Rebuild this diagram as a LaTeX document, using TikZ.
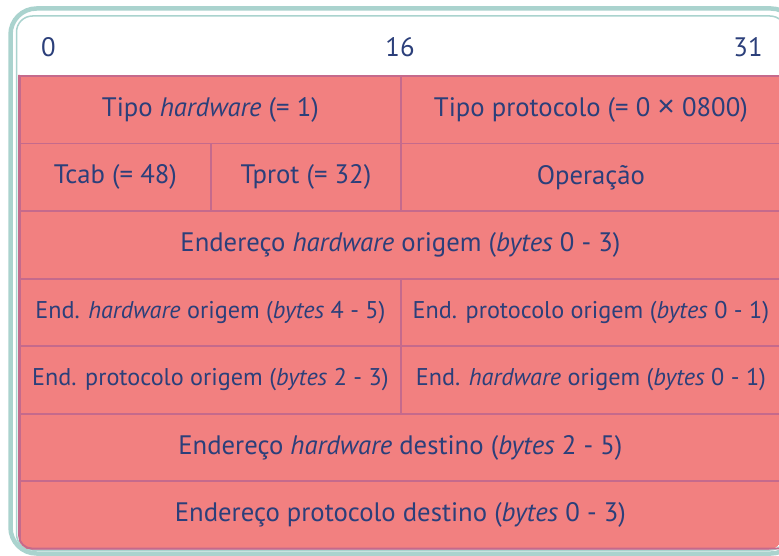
\documentclass[tikz,border=0pt]{standalone}
\usepackage{fontspec}
\setmainfont{PT Sans}
\newfontfamily\symfont{Liberation Sans}
\definecolor{cellfill}{HTML}{F28080}
\definecolor{cellline}{HTML}{C56A8C}
\definecolor{ink}{HTML}{2B3F7A}
\definecolor{frame}{HTML}{AAD3CE}
\tikzset{
  cell/.style={draw=cellline, fill=cellfill, line width=1.8pt, inner sep=0pt,
    anchor=north west, minimum height=67.57pt, text=ink, font=\bigtxt},
  small/.style={font=\smalltxt},
  bitnum/.style={text=ink, font=\bigtxt, inner sep=0pt}
}
\newcommand{\bigtxt}{\fontsize{26.7}{31}\selectfont}
\newcommand{\smalltxt}{\fontsize{24.2}{28}\selectfont}
\newcommand{\timessign}{{\symfont\fontsize{30}{30}\selectfont ×}}
\begin{document}
\begin{tikzpicture}[x=1pt, y=-1pt]
  \useasboundingbox (0,0) rectangle (779,556);
  \begin{scope}
    \clip (0,0) rectangle (779,556);
    % outer and inner frame
    \draw[frame, line width=4.5pt, rounded corners=26pt] (10.5,8.5) rectangle (797,553.5);
    \draw[frame, line width=1.5pt, fill=white, rounded corners=16pt] (16.5,16) rectangle (786,550);
    % bit positions
    \node[bitnum] (b0) at (48.5,47) {0};
    \node[bitnum] (b16) at (400,47) {16};
    \node[bitnum] (b31) at (748,47) {31};
    % header cells, clipped to the rounded lower-left corner
    \begin{scope}
      \clip[rounded corners=13pt] (18.5,60) -- (18.5,549.5) -- (782,549.5) -- (782,60) -- cycle;
      \node[cell, minimum width=381pt] (hw) at (19,75) {Tipo \emph{hardware} (= 1)};
      \node[cell, minimum width=380pt] (pt) at (400,75) {Tipo protocolo (= 0 \timessign\ 0800)};
      \node[cell, minimum width=191pt] (tcab) at (19,142.57) {Tcab (= 48)};
      \node[cell, minimum width=190pt] (tprot) at (210,142.57) {Tprot (= 32)};
      \node[cell, minimum width=380pt] (op) at (400,142.57) {Operação};
      \node[cell, minimum width=761pt] (hwo) at (19,210.14) {Endereço \emph{hardware} origem (\emph{bytes} 0 - 3)};
      \node[cell, small, minimum width=381pt] (hwo2) at (19,277.71) {End. \emph{hardware} origem (\emph{bytes} 4 - 5)};
      \node[cell, small, minimum width=380pt] (pro1) at (400,277.71) {End. protocolo origem (\emph{bytes} 0 - 1)};
      \node[cell, small, minimum width=381pt] (pro2) at (19,345.28) {End. protocolo origem (\emph{bytes} 2 - 3)};
      \node[cell, small, minimum width=380pt] (hwd1) at (400,345.28) {End. \emph{hardware} origem (\emph{bytes} 0 - 1)};
      \node[cell, minimum width=761pt] (hwd) at (19,412.85) {Endereço \emph{hardware} destino (\emph{bytes} 2 - 5)};
      \node[cell, minimum width=761pt] (prd) at (19,480.42) {Endereço protocolo destino (\emph{bytes} 0 - 3)};
    \end{scope}
    \draw[cellline, line width=1.8pt, rounded corners=13pt] (19,75) -- (19,548.5) -- (782,548.5);
  \end{scope}
\end{tikzpicture}
\end{document}
